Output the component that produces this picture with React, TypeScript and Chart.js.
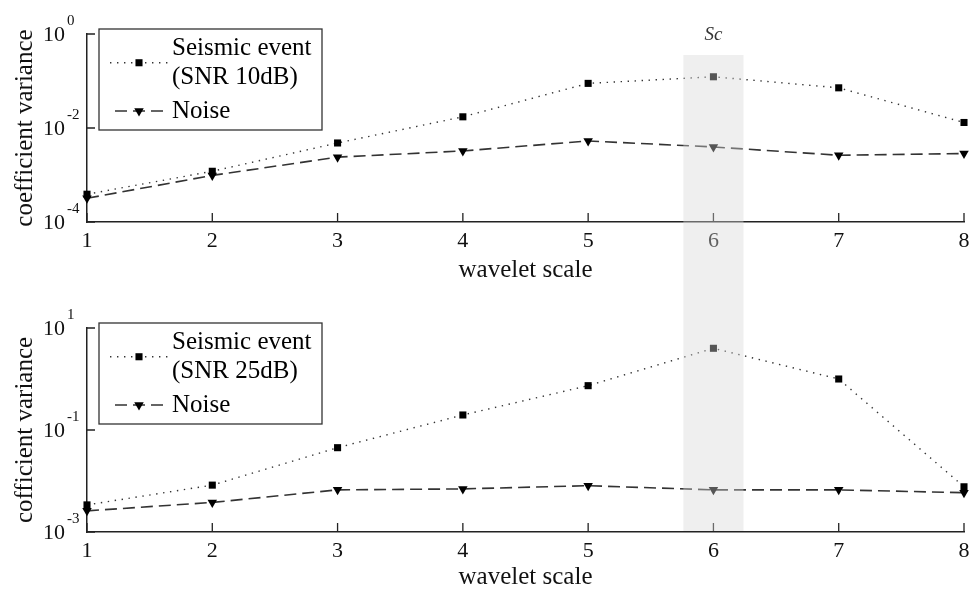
import React, { useEffect, useRef } from "react";
import { Chart, registerables } from "chart.js";

Chart.register(...registerables);

const SERIF = "'Liberation Serif', 'Times New Roman', serif";

// ---- data ----
const waveletScales = [1, 2, 3, 4, 5, 6, 7, 8];
const seismic10dB = [3.9e-4, 1.2e-3, 4.8e-3, 0.0173, 0.089, 0.123, 0.0716, 0.0131];
const noise10dB = [3.2e-4, 9.8e-4, 2.4e-3, 3.25e-3, 5.3e-3, 3.95e-3, 2.63e-3, 2.86e-3];
const seismic25dB = [3.4e-3, 8.3e-3, 0.045, 0.197, 0.74, 4.0, 1.0, 7.7e-3];
const noise25dB = [2.6e-3, 3.8e-3, 6.7e-3, 7.0e-3, 8.1e-3, 6.7e-3, 6.7e-3, 5.9e-3];
const topYTicks = [1e-4, 1e-2, 1];
const bottomYTicks = [1e-3, 1e-1, 10];
const topSeismicLegend = ["Seismic event", "(SNR 10dB)"];
const bottomSeismicLegend = ["Seismic event", "(SNR 25dB)"];
const noiseLegend = ["Noise"];
const topYTitle = "coefficient variance";
const bottomYTitle = "cofficient variance";
const xTitle = "wavelet scale";
const highlightLabel = "Sc";
const highlightScale = 6;
const highlightHalfWidth = 0.24;

type PanelCfg = {
  height: number;
  areaTop: number;
  areaBottom: number;
  seismic: number[];
  noise: number[];
  seismicLegend: string[];
  yMin: number;
  yMax: number;
  yTicks: number[];
  yTitle: string;
  xTitlePad: number;
  band: "top" | "bottom";
};

function drawMarker(ctx: CanvasRenderingContext2D, style: string, r: number, x: number, y: number, color: string) {
  ctx.save();
  ctx.fillStyle = color;
  ctx.beginPath();
  if (style === "rect") {
    const s = r * Math.SQRT1_2;
    ctx.rect(x - s, y - s, 2 * s, 2 * s);
  } else {
    // downward triangle (rotation 180)
    let rad = Math.PI;
    ctx.moveTo(x + Math.sin(rad) * r, y - Math.cos(rad) * r);
    rad += (2 * Math.PI) / 3;
    ctx.lineTo(x + Math.sin(rad) * r, y - Math.cos(rad) * r);
    rad += (2 * Math.PI) / 3;
    ctx.lineTo(x + Math.sin(rad) * r, y - Math.cos(rad) * r);
    ctx.closePath();
  }
  ctx.fill();
  ctx.restore();
}

function decorPlugin(cfg: PanelCfg) {
  return {
    id: "decor",
    afterDraw(chart: any) {
      const ctx: CanvasRenderingContext2D = chart.ctx;
      const xs = chart.scales.x;
      const ys = chart.scales.y;
      const area = chart.chartArea;
      ctx.save();

      // inward tick marks
      ctx.strokeStyle = "#222";
      ctx.lineWidth = 1.3;
      ctx.beginPath();
      for (const v of waveletScales) {
        const px = xs.getPixelForValue(v);
        ctx.moveTo(px, area.bottom);
        ctx.lineTo(px, area.bottom - 9);
      }
      for (const t of cfg.yTicks) {
        const py = ys.getPixelForValue(t);
        ctx.moveTo(area.left, py);
        ctx.lineTo(area.left + 8, py);
      }
      ctx.stroke();

      // y tick labels with superscript exponents
      ctx.fillStyle = "#111";
      for (const t of cfg.yTicks) {
        const py = ys.getPixelForValue(t);
        const exp = Math.round(Math.log10(t));
        ctx.font = `22px ${SERIF}`;
        ctx.textAlign = "right";
        ctx.textBaseline = "middle";
        ctx.fillText("10", area.left - 22, py + 1);
        ctx.font = `15px ${SERIF}`;
        ctx.textAlign = "left";
        ctx.fillText(String(exp), area.left - 20, py - 13);
      }

      // legend box
      const bl = area.left + 12;
      const bt = area.top - 5;
      const bw = 223;
      const bh = 101;
      ctx.fillStyle = "#fff";
      ctx.fillRect(bl, bt, bw, bh);
      ctx.strokeStyle = "#333";
      ctx.lineWidth = 1.3;
      ctx.strokeRect(bl, bt, bw, bh);
      let y = bt + 19;
      chart.data.datasets.forEach((ds: any) => {
        const lines: string[] = ds.legendLines;
        const rows = lines.map((_: string, k: number) => y + k * 29.5);
        const sy = (rows[0] + rows[rows.length - 1]) / 2;
        const dashed = ds.borderDash[0] > 3;
        const x0 = dashed ? bl + 16 : bl + 11;
        const x1 = dashed ? bl + 64 : bl + 69;
        ctx.save();
        ctx.strokeStyle = ds.borderColor;
        ctx.lineWidth = ds.borderWidth;
        ctx.setLineDash(ds.borderDash);
        ctx.beginPath();
        ctx.moveTo(x0, sy);
        ctx.lineTo(x1, sy);
        ctx.stroke();
        ctx.restore();
        drawMarker(ctx, ds.pointStyle, ds.pointRadius, bl + 40, sy, ds.pointBackgroundColor);
        ctx.fillStyle = "#000";
        ctx.font = `25px ${SERIF}`;
        ctx.textAlign = "left";
        ctx.textBaseline = "middle";
        lines.forEach((t: string, k: number) => ctx.fillText(t, bl + 73, rows[k]));
        y = rows[rows.length - 1] + 33.5;
      });

      // highlighted scale band
      const bx0 = xs.getPixelForValue(highlightScale - highlightHalfWidth);
      const bx1 = xs.getPixelForValue(highlightScale + highlightHalfWidth);
      if (cfg.band === "top") {
        ctx.fillStyle = "#333";
        ctx.font = `italic 19px ${SERIF}`;
        ctx.textAlign = "center";
        ctx.textBaseline = "middle";
        ctx.fillText(highlightLabel, xs.getPixelForValue(highlightScale), area.top + 1);
        ctx.fillStyle = "rgba(215,215,215,0.4)";
        ctx.fillRect(bx0, area.top + 21, bx1 - bx0, chart.height - area.top - 21);
      } else {
        ctx.fillStyle = "rgba(215,215,215,0.4)";
        ctx.fillRect(bx0, 0, bx1 - bx0, area.bottom - 1);
      }
      ctx.restore();
    },
  };
}

function makeChart(canvas: HTMLCanvasElement, cfg: PanelCfg) {
  const gridOpts = { display: true, drawOnChartArea: false, drawTicks: false };
  const borderOpts = { display: true, color: "#222", width: 1.5 };
  return new Chart(canvas, {
    type: "line",
    data: {
      datasets: [
        {
          label: cfg.seismicLegend.join(" "),
          legendLines: cfg.seismicLegend,
          data: waveletScales.map((x, i) => ({ x, y: cfg.seismic[i] })),
          borderColor: "#333",
          borderWidth: 1.4,
          borderDash: [1.4, 5.6],
          pointStyle: "rect",
          pointRadius: 5,
          pointBackgroundColor: "#000",
          pointBorderColor: "#000",
          pointBorderWidth: 0,
          fill: false,
          tension: 0,
          clip: false,
        } as any,
        {
          label: noiseLegend.join(" "),
          legendLines: noiseLegend,
          data: waveletScales.map((x, i) => ({ x, y: cfg.noise[i] })),
          borderColor: "#333",
          borderWidth: 1.6,
          borderDash: [12, 6],
          pointStyle: "triangle",
          pointRotation: 180,
          pointRadius: 5.5,
          pointBackgroundColor: "#000",
          pointBorderColor: "#000",
          pointBorderWidth: 0,
          fill: false,
          tension: 0,
          clip: false,
        } as any,
      ],
    },
    options: {
      responsive: false,
      animation: false,
      devicePixelRatio: 1,
      layout: { padding: { top: cfg.areaTop, left: 0, right: 6, bottom: 0 } },
      plugins: { legend: { display: false }, tooltip: { enabled: false } },
      scales: {
        x: {
          type: "linear",
          min: 1,
          max: 8,
          afterBuildTicks: (s: any) => {
            s.ticks = waveletScales.map((v) => ({ value: v }));
          },
          afterFit: (s: any) => {
            s.height = cfg.height - cfg.areaBottom;
            s.paddingLeft = 0;
            s.paddingRight = 0;
          },
          grid: gridOpts,
          border: borderOpts,
          ticks: {
            color: "#111",
            font: { family: SERIF, size: 22 },
            padding: 6,
            maxRotation: 0,
            autoSkip: false,
          },
          title: {
            display: true,
            text: xTitle,
            color: "#111",
            font: { family: SERIF, size: 25 },
            padding: { top: 0, bottom: cfg.xTitlePad },
          },
        },
        y: {
          type: "logarithmic",
          min: cfg.yMin,
          max: cfg.yMax,
          afterBuildTicks: (s: any) => {
            s.ticks = cfg.yTicks.map((v) => ({ value: v }));
          },
          afterFit: (s: any) => {
            s.width = 87;
            s.paddingTop = 0;
            s.paddingBottom = 0;
          },
          grid: gridOpts,
          border: borderOpts,
          ticks: { display: false },
          title: {
            display: true,
            text: cfg.yTitle,
            color: "#111",
            font: { family: SERIF, size: 25 },
            padding: { top: 10, bottom: 0 },
          },
        },
      },
    } as any,
    plugins: [decorPlugin(cfg)],
  });
}

const topCfg: PanelCfg = {
  height: 290,
  areaTop: 34,
  areaBottom: 222,
  seismic: seismic10dB,
  noise: noise10dB,
  seismicLegend: topSeismicLegend,
  yMin: 1e-4,
  yMax: 1,
  yTicks: topYTicks,
  yTitle: topYTitle,
  xTitlePad: 5,
  band: "top",
};

const bottomCfg: PanelCfg = {
  height: 300,
  areaTop: 38,
  areaBottom: 242,
  seismic: seismic25dB,
  noise: noise25dB,
  seismicLegend: bottomSeismicLegend,
  yMin: 1e-3,
  yMax: 10,
  yTicks: bottomYTicks,
  yTitle: bottomYTitle,
  xTitlePad: -2,
  band: "bottom",
};

export default function App() {
  const topRef = useRef<HTMLCanvasElement>(null);
  const botRef = useRef<HTMLCanvasElement>(null);

  useEffect(() => {
    const c1 = makeChart(topRef.current!, topCfg);
    const c2 = makeChart(botRef.current!, bottomCfg);
    return () => {
      c1.destroy();
      c2.destroy();
    };
  }, []);

  return (
    <div style={{ position: "absolute", left: 0, top: 0, width: 970, height: 590, background: "#fff" }}>
      <canvas ref={topRef} width={970} height={290} style={{ display: "block", width: 970, height: 290 }} />
      <canvas ref={botRef} width={970} height={300} style={{ display: "block", width: 970, height: 300 }} />
    </div>
  );
}
